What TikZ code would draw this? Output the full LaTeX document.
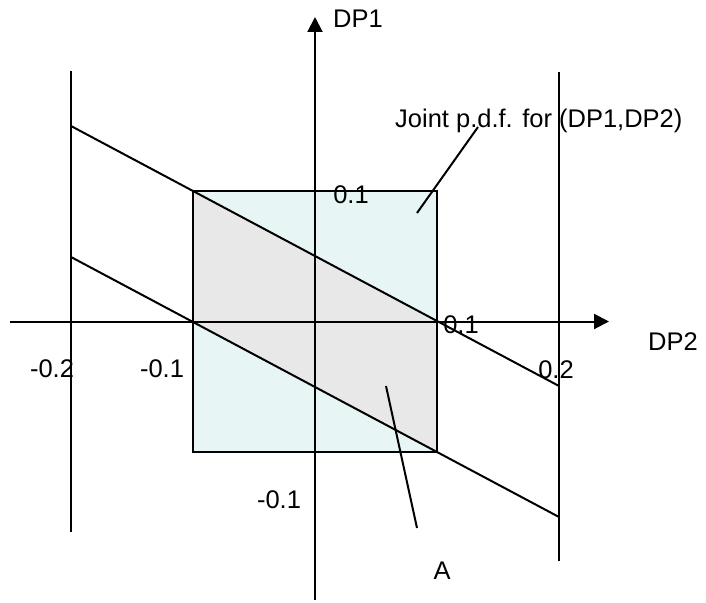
\documentclass[tikz,border=0pt]{standalone}
\usepackage{fontspec}
\setmainfont{Liberation Sans}
\usetikzlibrary{arrows.meta}
\definecolor{ink}{HTML}{000000}
\definecolor{cyanfill}{HTML}{E8F5F5}
\definecolor{grayfill}{HTML}{E8E8E8}

\begin{document}
\begin{tikzpicture}[x=1pt,y=-1pt,
  font=\fontsize{25.5}{30}\selectfont,text=ink,
  line/.style={draw=ink,line width=2pt},
  axis/.style={line,-{Triangle[length=15pt,width=15pt]}},
  pdfbox/.style={fill=cyanfill,minimum width=244pt,minimum height=261pt,inner sep=0pt},
  lbl/.style={anchor=base,inner sep=0pt}]
\useasboundingbox (0,0) rectangle (706,602);
\node[pdfbox] (pdf) at (315,321.5) {};
\fill[grayfill] (pdf.north west) -- (pdf.east) -- (pdf.south east) -- (pdf.west) -- cycle;
\draw[line] (pdf.north west) rectangle (pdf.south east);
\coordinate (ltop) at (71,71);
\coordinate (lbot) at (71,532);
\coordinate (rtop) at (559,72);
\coordinate (rbot) at (559,561);
\coordinate (uleft) at (71,126);
\coordinate (uright) at (559,386);
\coordinate (dleft) at (71,257);
\coordinate (dright) at (559,517);
\coordinate (xstart) at (10,321.5);
\coordinate (xend) at (609,321.5);
\coordinate (ystart) at (315,600);
\coordinate (yend) at (315,17);
\draw[line] (ltop) -- (lbot);
\draw[line] (rtop) -- (rbot);
\draw[line] (uleft) -- (uright);
\draw[line] (dleft) -- (dright);
\draw[axis] (xstart) -- (xend);
\draw[axis] (ystart) -- (yend);
\node[lbl] (dp1) at (358,28) {DP1};
\node[lbl] (dp2) at (673,350) {DP2};
\node[lbl] (xm2) at (52,377) {-0.2};
\node[lbl] (xm1) at (162,377) {-0.1};
\node[lbl] (xp1) at (461,333) {0.1};
\node[lbl] (xp2) at (556,378) {0.2};
\node[lbl] (yp1) at (351,203) {0.1};
\node[lbl] (ym1) at (279,508) {-0.1};
\node[lbl] (areaA) at (442,579) {A};
\node[lbl,anchor=base west] (joint) at (395,127) {Joint p.d.f. for (DP1,DP2)};
\coordinate (jtail) at (478,127);
\coordinate (jhead) at (417,213);
\coordinate (atail) at (386,386);
\coordinate (ahead) at (417,528);
\draw[line] (jtail) -- (jhead);
\draw[line] (atail) -- (ahead);
\end{tikzpicture}
\end{document}
